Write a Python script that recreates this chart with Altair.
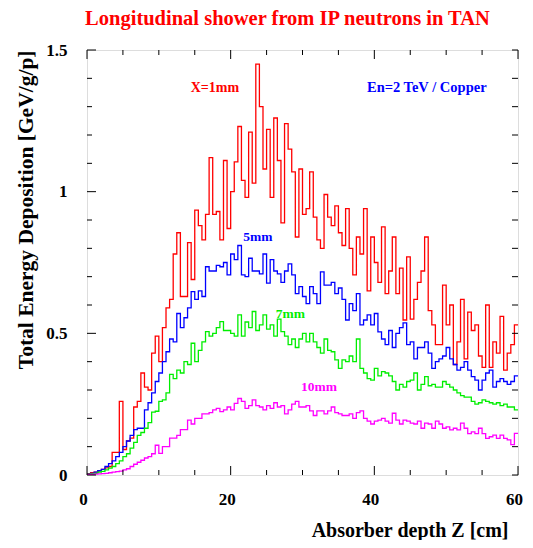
import altair as alt
import pandas as pd

BIN = 0.5

red_vals = [
    0.005, 0.008, 0.01, 0.015, 0.02, 0.025, 0.03, 0.08, 0.08, 0.26,
    0.09, 0.12, 0.13, 0.24, 0.26, 0.36, 0.31, 0.30, 0.43, 0.49,
    0.40, 0.52, 0.59, 0.62, 0.78, 0.855, 0.63, 0.63, 0.82, 0.69,
    0.935, 0.88, 0.83, 0.92, 1.12, 0.92, 0.93, 0.83, 1.11, 0.87,
    1.0, 1.105, 1.23, 1.04, 0.98, 1.21, 1.03, 1.45, 1.30, 1.08,
    1.22, 0.98, 1.26, 1.11, 0.89, 1.24, 1.15, 1.07, 0.84, 1.08,
    0.92, 0.94, 1.07, 0.91, 0.83, 0.80, 0.99, 0.91, 0.88, 0.95,
    0.855, 0.81, 0.94, 0.80, 0.706, 0.84, 0.78, 0.94, 0.65, 0.84,
    0.75, 0.68, 0.876, 0.64, 0.72, 0.84, 0.64, 0.73, 0.547, 0.77,
    0.55, 0.62, 0.68, 0.72, 0.84, 0.58, 0.53, 0.46, 0.46, 0.67,
    0.53, 0.60, 0.39, 0.47, 0.62, 0.41, 0.575, 0.51, 0.53, 0.42,
    0.38, 0.60, 0.38, 0.47, 0.43, 0.56, 0.37, 0.43, 0.46, 0.53,
]

blue_vals = [
    0.003, 0.006, 0.01, 0.015, 0.02, 0.03, 0.04, 0.05, 0.065, 0.08,
    0.10, 0.12, 0.14, 0.16, 0.165, 0.165, 0.23, 0.255, 0.29, 0.33,
    0.36, 0.40, 0.435, 0.48, 0.47, 0.57, 0.52, 0.555, 0.59, 0.647,
    0.62, 0.65, 0.63, 0.735, 0.72, 0.72, 0.74, 0.735, 0.75, 0.706,
    0.78, 0.76, 0.81, 0.706, 0.70, 0.765, 0.72, 0.72, 0.71, 0.78,
    0.677, 0.76, 0.72, 0.71, 0.68, 0.72, 0.745, 0.706, 0.64, 0.665,
    0.63, 0.605, 0.665, 0.64, 0.605, 0.717, 0.67, 0.67, 0.68, 0.64,
    0.66, 0.62, 0.547, 0.605, 0.58, 0.64, 0.53, 0.547, 0.565, 0.53,
    0.57, 0.505, 0.48, 0.46, 0.51, 0.45, 0.50, 0.52, 0.537, 0.46,
    0.47, 0.41, 0.45, 0.45, 0.47, 0.43, 0.376, 0.40, 0.41, 0.42,
    0.45, 0.41, 0.39, 0.37, 0.38, 0.40, 0.37, 0.347, 0.335, 0.30,
    0.335, 0.36, 0.37, 0.31, 0.33, 0.34, 0.33, 0.32, 0.33, 0.35,
]

green_vals = [
    0.002, 0.004, 0.006, 0.01, 0.013, 0.018, 0.024, 0.03, 0.04, 0.05,
    0.065, 0.075, 0.095, 0.115, 0.14, 0.15, 0.165, 0.185, 0.222, 0.225,
    0.26, 0.265, 0.29, 0.355, 0.34, 0.37, 0.36, 0.40, 0.39, 0.465,
    0.40, 0.44, 0.47, 0.506, 0.49, 0.50, 0.52, 0.541, 0.51, 0.51,
    0.50, 0.49, 0.565, 0.49, 0.54, 0.52, 0.577, 0.51, 0.53, 0.565,
    0.515, 0.53, 0.49, 0.55, 0.506, 0.49, 0.46, 0.48, 0.45, 0.48,
    0.50, 0.47, 0.50, 0.47, 0.45, 0.43, 0.48, 0.44, 0.435, 0.406,
    0.376, 0.406, 0.40, 0.42, 0.40, 0.48, 0.376, 0.36, 0.34, 0.335,
    0.376, 0.35, 0.365, 0.36, 0.35, 0.33, 0.30, 0.32, 0.31, 0.33,
    0.335, 0.36, 0.30, 0.32, 0.347, 0.315, 0.32, 0.31, 0.31, 0.33,
    0.32, 0.31, 0.30, 0.29, 0.28, 0.275, 0.275, 0.26, 0.25, 0.255,
    0.265, 0.26, 0.255, 0.25, 0.255, 0.245, 0.25, 0.24, 0.24, 0.23,
]

magenta_vals = [
    0.001, 0.002, 0.003, 0.004, 0.005, 0.006, 0.008, 0.01, 0.012, 0.014,
    0.018, 0.022, 0.03, 0.038, 0.045, 0.052, 0.06, 0.065, 0.075, 0.105,
    0.076, 0.10, 0.10, 0.13, 0.13, 0.14, 0.16, 0.16, 0.194, 0.18,
    0.20, 0.20, 0.216, 0.216, 0.22, 0.23, 0.235, 0.224, 0.23, 0.24,
    0.23, 0.253, 0.27, 0.26, 0.235, 0.245, 0.265, 0.245, 0.24, 0.23,
    0.245, 0.235, 0.255, 0.24, 0.245, 0.216, 0.23, 0.25, 0.26, 0.24,
    0.24, 0.245, 0.226, 0.21, 0.226, 0.226, 0.216, 0.226, 0.24, 0.22,
    0.216, 0.21, 0.21, 0.216, 0.20, 0.22, 0.226, 0.20, 0.19, 0.18,
    0.19, 0.194, 0.20, 0.19, 0.183, 0.218, 0.194, 0.18, 0.194, 0.19,
    0.183, 0.18, 0.19, 0.165, 0.183, 0.18, 0.165, 0.19, 0.18, 0.165,
    0.17, 0.159, 0.165, 0.159, 0.183, 0.165, 0.146, 0.152, 0.146, 0.165,
    0.146, 0.129, 0.135, 0.141, 0.129, 0.141, 0.129, 0.124, 0.107, 0.147,
]

series_names = ["X=1mm", "5mm", "7mm", "10mm"]
series_colors = ["#ff0000", "#0000ff", "#00ee00", "#ff00ff"]
series_values = [red_vals, blue_vals, green_vals, magenta_vals]

label_text = ["X=1mm", "En=2 TeV / Copper", "5mm", "7mm", "10mm"]
label_z = [17.8, 47.3, 23.8, 28.3, 32.3]
label_v = [1.366, 1.366, 0.84, 0.57, 0.31]
label_size = [14, 14.5, 13.5, 13.5, 13.5]
label_color = ["#ff0000", "#0000ff", "#0000ff", "#00ee00", "#ff00ff"]

x_major = [0, 20, 40, 60]
x_minor = [5, 10, 15, 25, 30, 35, 45, 50, 55]
y_major = [0, 0.5, 1.0, 1.5]
y_minor = [0.1, 0.2, 0.3, 0.4, 0.6, 0.7, 0.8, 0.9, 1.1, 1.2, 1.3, 1.4]

W, H = 431, 425
FONT = "Liberation Serif"

rows = []
for name, vals in zip(series_names, series_values):
    for i, v in enumerate(vals):
        rows.append({"z": i * BIN, "v": v, "series": name})
    rows.append({"z": len(vals) * BIN, "v": vals[-1], "series": name})
df = pd.DataFrame(rows)

xscale = alt.Scale(domain=[0, 60], nice=False, zero=False)
yscale = alt.Scale(domain=[0, 1.5], nice=False, zero=False)

xaxis = alt.Axis(values=x_major, ticks=False, domain=False, grid=False,
                 labelFont=FONT, labelFontSize=17, labelFontWeight="bold",
                 labelColor="black", labelPadding=16, labelFlush=False, labelOffset=-4,
                 title="Absorber depth Z [cm]", titleFont=FONT, titleFontSize=20,
                 titleFontWeight="bold", titleColor="black", titleAlign="right",
                 titleBaseline="middle", titleX=421, titleY=55)
yaxis = alt.Axis(values=y_major, format="~g", ticks=False, domain=False, grid=False,
                 labelFont=FONT, labelFontSize=17, labelFontWeight="bold",
                 labelColor="black", labelPadding=20, labelFlush=False,
                 title="Total Energy Deposition [GeV/g/p]", titleFont=FONT,
                 titleFontSize=21.5, titleFontWeight="bold", titleColor="black",
                 titleAngle=270, titleAlign="right", titleBaseline="middle",
                 titleX=-61, titleY=0)

lines = alt.Chart(df).mark_line(interpolate="step-after", strokeWidth=1.3, clip=True).encode(
    x=alt.X("z:Q", scale=xscale, axis=xaxis),
    y=alt.Y("v:Q", scale=yscale, axis=yaxis),
    color=alt.Color("series:N", scale=alt.Scale(domain=series_names[::-1], range=series_colors[::-1]),
                    legend=None),
)

labels_df = pd.DataFrame({"text": label_text, "z": label_z, "v": label_v,
                          "color": label_color, "size": label_size})
labels = alt.Chart(labels_df).mark_text(font=FONT, fontWeight="bold").encode(
    x=alt.X("z:Q", scale=xscale),
    y=alt.Y("v:Q", scale=yscale),
    text="text:N",
    color=alt.Color("color:N", scale=None),
    size=alt.Size("size:Q", scale=None),
)

def xticks(vals, length):
    d = pd.DataFrame({"z": vals})
    bottom = alt.Chart(d).mark_rule(color="black", strokeWidth=1).encode(
        x=alt.X("z:Q", scale=xscale), y=alt.value(H), y2=alt.value(H - length))
    top = alt.Chart(d).mark_rule(color="black", strokeWidth=1).encode(
        x=alt.X("z:Q", scale=xscale), y=alt.value(0), y2=alt.value(length))
    return [bottom, top]

def yticks(vals, length_left, length_right):
    d = pd.DataFrame({"v": vals})
    left = alt.Chart(d).mark_rule(color="black", strokeWidth=1).encode(
        y=alt.Y("v:Q", scale=yscale), x=alt.value(0), x2=alt.value(length_left))
    right = alt.Chart(d).mark_rule(color="black", strokeWidth=1).encode(
        y=alt.Y("v:Q", scale=yscale), x=alt.value(W), x2=alt.value(W - length_right))
    return [left, right]

tick_layers = xticks(x_major, 9) + xticks(x_minor, 5) + yticks(y_major, 9, 6) + yticks(y_minor, 5, 6)

chart = alt.layer(lines, labels, *tick_layers).properties(
    width=W, height=H,
    autosize=alt.AutoSizeParams(type="none"),
    padding={"left": 79, "top": 42, "right": 7, "bottom": 65},
    title=alt.TitleParams("Longitudinal shower from IP neutrons in TAN", font=FONT, fontSize=20.5,
                          fontWeight="bold", color="#ff0000", anchor="middle", dx=-15,
                          offset=12),
).configure_view(stroke="#222", strokeWidth=2).configure(background="white")

chart.save("out.html", embed_options={"renderer": "svg", "actions": False})
